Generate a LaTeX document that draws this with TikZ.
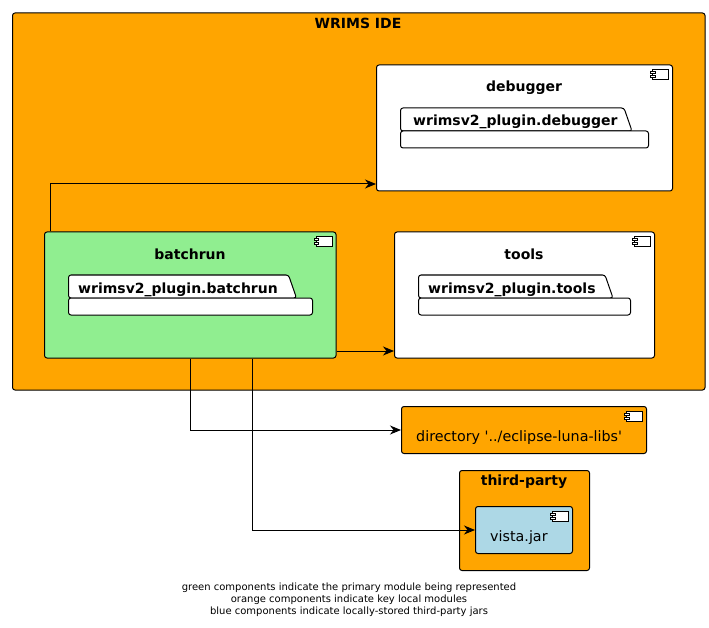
\documentclass[tikz,border=0pt]{standalone}
\usepackage{fontspec}
\setmainfont{DejaVu Sans}
\newfontfamily\straightfont{DejaVu Sans}
\usetikzlibrary{arrows.meta}
\definecolor{orangefill}{HTML}{FFA500}
\definecolor{greenfill}{HTML}{90EE90}
\definecolor{bluefill}{HTML}{ADD8E6}
\tikzset{
    comp/.style={draw=black, line width=1pt, rounded corners=2.5pt, inner sep=0pt},
    title/.style={font=\fontsize{14}{17}\selectfont\bfseries, inner sep=0pt, anchor=base},
    plain/.style={font=\straightfont\fontsize{14.3}{17}\selectfont, inner sep=0pt, anchor=base west},
    pkg/.style={draw=black, line width=1pt, fill=white, rounded corners=2.5pt},
    conn/.style={->, line width=1pt},
}
% small component symbol in the top right corner of a box
\newcommand{\compicon}[1]{
    \begin{scope}[shift={(#1.north east)}]
        \draw[line width=1pt, fill=white] (-20.5,5) rectangle (-4.5,15);
        \draw[line width=1pt, fill=white] (-22.5,7) rectangle (-18,9.5);
        \draw[line width=1pt, fill=white] (-22.5,11) rectangle (-18,13.5);
    \end{scope}
}
% package folder: left x, tab right x, body right x, top y
\newcommand{\pkgshape}[4]{
    \draw[pkg] (#1,#4+23) -- (#1,#4) -- (#2-8,#4) -- (#2,#4+23) -- cycle;
    \draw[pkg] (#1,#4+23) rectangle (#3,#4+40);
}
\begin{document}
\begin{tikzpicture}[x=1pt, y=-1pt, >={Stealth[length=11pt, width=9pt, inset=3.5pt]}]
    \useasboundingbox (0,0) rectangle (709,628);

    % Outer box
    \node[comp, fill=orangefill, minimum width=692.5pt, minimum height=377pt] (wrims) at (358.75,201.5) {};
    \node[title] (wrimstitle) at (358,29) {WRIMS IDE};

    % Modules inside the IDE
    \node[comp, fill=white, minimum width=296pt, minimum height=126pt] (debugger) at (524.5,128) {};
    \compicon{debugger}
    \node[title] (debuggertitle) at (524,92) {debugger};
    \pkgshape{400.5}{632}{648.5}{108}
    \node[title, anchor=base west] (debuggerpkg) at (413,126) {wrimsv2\_plugin.debugger};

    \node[comp, fill=greenfill, minimum width=291.5pt, minimum height=126pt] (batchrun) at (190.25,295) {};
    \compicon{batchrun}
    \node[title] (batchruntitle) at (190,259) {batchrun};
    \pkgshape{68.5}{296.5}{312.5}{275}
    \node[title, anchor=base west] (batchrunpkg) at (78,293) {wrimsv2\_plugin.batchrun};

    \node[comp, fill=white, minimum width=260pt, minimum height=126pt] (tools) at (524.5,295) {};
    \compicon{tools}
    \node[title] (toolstitle) at (524,259) {tools};
    \pkgshape{418.5}{613}{630.5}{275}
    \node[title, anchor=base west] (toolspkg) at (428,293) {wrimsv2\_plugin.tools};

    % Modules below the IDE
    \node[comp, fill=orangefill, minimum width=245pt, minimum height=47pt] (eclipse) at (524,430) {};
    \compicon{eclipse}
    \node[plain] (eclipselabel) at (416,441) {directory '../eclipse-luna-libs'};

    \node[comp, fill=orangefill, minimum width=130pt, minimum height=100pt] (thirdparty) at (524.5,520.5) {};
    \node[title] (thirdpartytitle) at (524,485.5) {third-party};
    \node[comp, fill=bluefill, minimum width=97pt, minimum height=47pt] (vista) at (524,530) {};
    \compicon{vista}
    \node[plain] (vistalabel) at (490,541) {vista.jar};

    % Connectors
    \coordinate (debuggerin) at (debugger.west |- 0,184);
    \coordinate (toolsin) at (tools.west |- 0,351);
    \coordinate (upout) at (50,0 |- batchrun.north);
    \coordinate (libsout) at (190.5,0 |- batchrun.south);
    \coordinate (jarout) at (252.5,0 |- batchrun.south);
    \draw[conn] (upout) |- (debuggerin);
    \draw[conn] (batchrun.east |- toolsin) -- (toolsin);
    \draw[conn] (libsout) |- (eclipse);
    \draw[conn] (jarout) |- (vista);

    % Legend
    \node[font=\fontsize{10}{12}\selectfont, align=center, inner sep=0pt] (legend) at (349,599.5)
        {green components indicate the primary module being represented\\
         orange components indicate key local modules\\
         blue components indicate locally-stored third-party jars};
\end{tikzpicture}
\end{document}
